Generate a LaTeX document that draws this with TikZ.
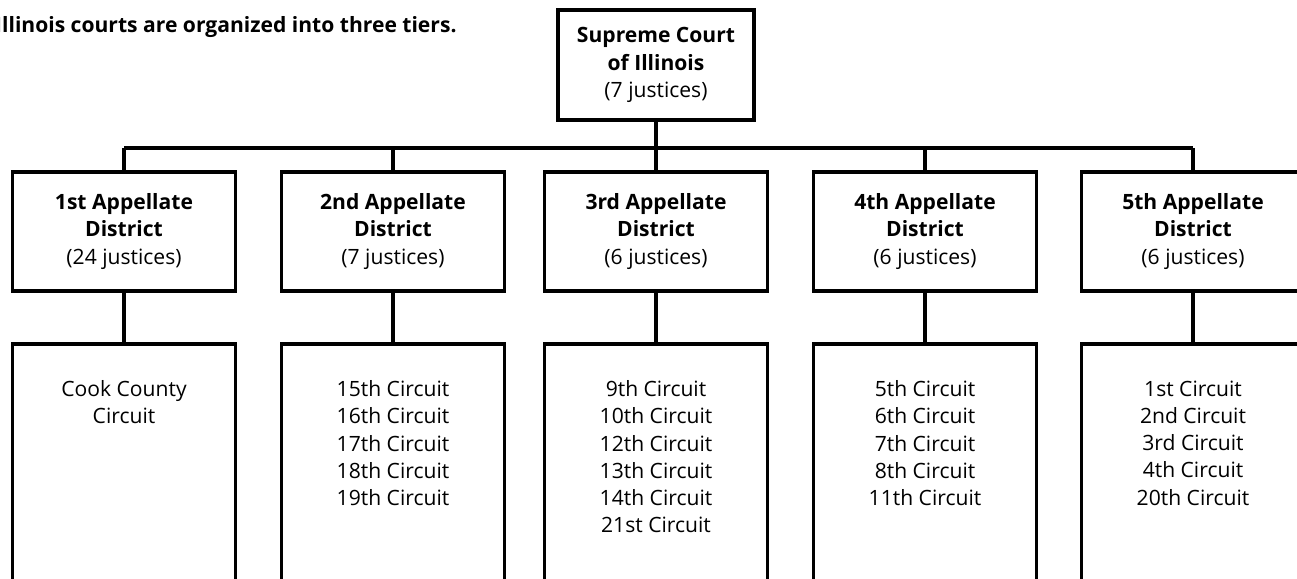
\documentclass[tikz,border=0pt]{standalone}
\usepackage{fontspec}
\setmainfont{Open Sans}
\usetikzlibrary{positioning}

\newcommand{\circlist}[1]{\parbox[c][5.4cm][t]{4.46cm}{\centering\vspace*{21pt}#1\par}}

\begin{document}
\begin{tikzpicture}[
    x=0.02cm, y=-0.02cm,
    every node/.style={font=\fontsize{12}{15.5}\selectfont},
    tierbox/.style={draw, line width=2pt, inner sep=0pt, minimum width=4.46cm, minimum height=2.38cm, align=center},
    topbox/.style={tierbox, minimum width=3.92cm, minimum height=2.2cm},
    circbox/.style={draw, line width=2pt, inner sep=0pt, anchor=north},
    link/.style={line width=2pt},
    caption/.style={anchor=base west, font=\bfseries\fontsize{12}{15}\selectfont},
    ]
  \useasboundingbox (0,0) rectangle (1297,578);

  \node[caption] (title) at (-11,32) {Illinois courts are organized into three tiers.};

  \node[topbox] (sc) at (656,65) {\textbf{Supreme Court}\\\textbf{of Illinois}\\(7 justices)};

  \node[tierbox] (ad1) at (124,231.5) {\textbf{1st Appellate}\\\textbf{District}\\(24 justices)};
  \node[tierbox] (ad2) at (393,231.5) {\textbf{2nd Appellate}\\\textbf{District}\\(7 justices)};
  \node[tierbox] (ad3) at (656,231.5) {\textbf{3rd Appellate}\\\textbf{District}\\(6 justices)};
  \node[tierbox] (ad4) at (925,231.5) {\textbf{4th Appellate}\\\textbf{District}\\(6 justices)};
  \node[tierbox] (ad5) at (1193,231.5) {\textbf{5th Appellate}\\\textbf{District}\\(6 justices)};

  \node[circbox] (cc1) at (124,342) {\circlist{Cook County\\Circuit}};
  \node[circbox] (cc2) at (393,342) {\circlist{15th Circuit\\16th Circuit\\17th Circuit\\18th Circuit\\19th Circuit}};
  \node[circbox] (cc3) at (656,342) {\circlist{9th Circuit\\10th Circuit\\12th Circuit\\13th Circuit\\14th Circuit\\21st Circuit}};
  \node[circbox] (cc4) at (925,342) {\circlist{5th Circuit\\6th Circuit\\7th Circuit\\8th Circuit\\11th Circuit}};
  \node[circbox] (cc5) at (1193,342) {\circlist{1st Circuit\\2nd Circuit\\3rd Circuit\\4th Circuit\\20th Circuit}};

  \coordinate (j1) at (124,148);
  \coordinate (j5) at (1193,148);

  \draw[link] (j1) -- (j5);
  \draw[link] (sc) -- (ad3);
  \foreach \i in {1,2,4,5}
    \draw[link] (ad\i.north |- j1) -- (ad\i);
  \foreach \i in {1,...,5}
    \draw[link] (ad\i) -- (cc\i);
\end{tikzpicture}
\end{document}
